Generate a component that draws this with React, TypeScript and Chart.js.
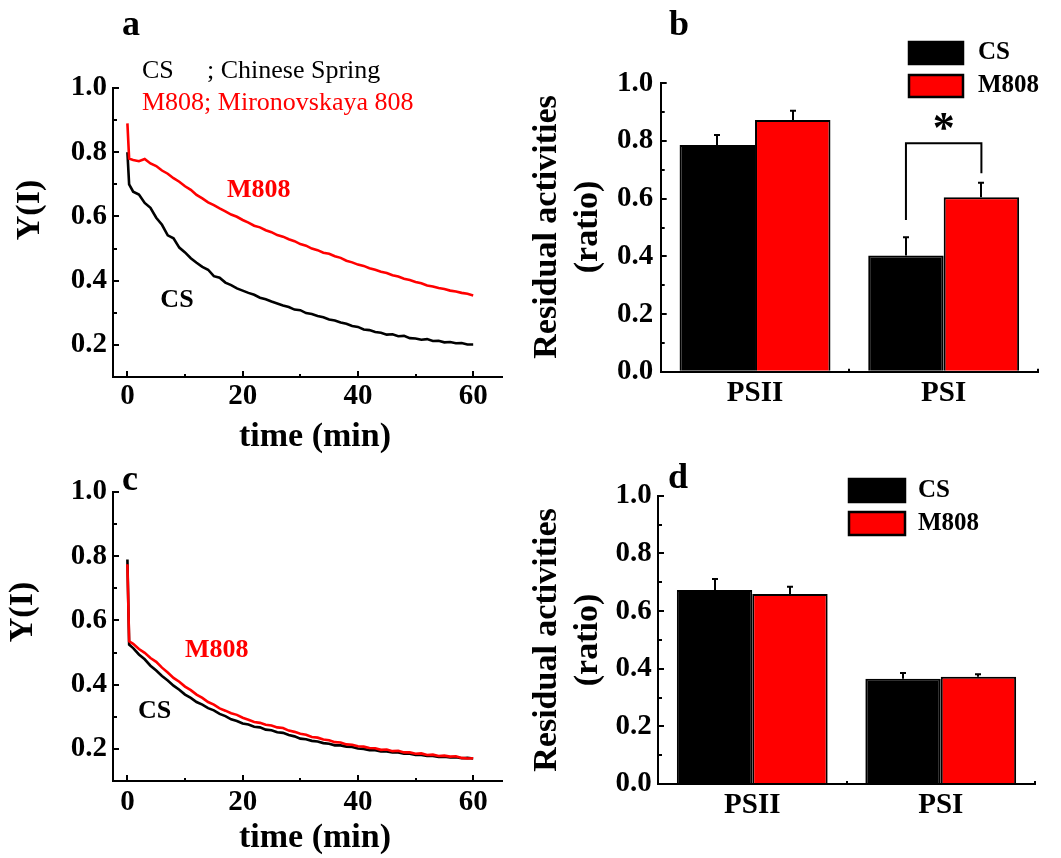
import React, { useEffect, useRef } from 'react';
import { Chart, registerables } from 'chart.js';

Chart.register(...registerables);

const FONT = '"Liberation Serif", "Times New Roman", Times, serif';
const RED = '#ff0000';
const BLACK = '#000000';

// ---------- data ----------
const timeMin = [0, 0.3, 1, 2, 3, 4, 5, 6, 7, 8, 9, 10, 11, 12, 13, 14, 15, 16, 17, 18, 19, 20,
  21, 22, 23, 24, 25, 26, 27, 28, 29, 30, 31, 32, 33, 34, 35, 36, 37, 38, 39, 40,
  41, 42, 43, 44, 45, 46, 47, 48, 49, 50, 51, 52, 53, 54, 55, 56, 57, 58, 59, 60];

const aCS = [0.80, 0.70, 0.677, 0.668, 0.642, 0.627, 0.596, 0.574, 0.541, 0.532, 0.503, 0.488,
  0.470, 0.456, 0.443, 0.434, 0.414, 0.409, 0.394, 0.386, 0.376, 0.369, 0.362, 0.356, 0.347,
  0.342, 0.335, 0.329, 0.323, 0.318, 0.310, 0.308, 0.299, 0.296, 0.290, 0.286, 0.279, 0.276,
  0.270, 0.266, 0.259, 0.256, 0.248, 0.246, 0.240, 0.238, 0.232, 0.233, 0.227, 0.228, 0.221,
  0.220, 0.216, 0.218, 0.212, 0.213, 0.208, 0.209, 0.205, 0.206, 0.201, 0.201];

const aM808 = [0.89, 0.78, 0.776, 0.772, 0.779, 0.765, 0.757, 0.743, 0.733, 0.719, 0.708, 0.694,
  0.683, 0.667, 0.656, 0.644, 0.635, 0.625, 0.616, 0.606, 0.599, 0.589, 0.581, 0.571, 0.566,
  0.557, 0.551, 0.542, 0.537, 0.529, 0.523, 0.514, 0.509, 0.500, 0.495, 0.487, 0.484, 0.476,
  0.471, 0.462, 0.457, 0.450, 0.446, 0.439, 0.434, 0.428, 0.424, 0.417, 0.413, 0.406, 0.402,
  0.396, 0.392, 0.385, 0.382, 0.377, 0.374, 0.369, 0.366, 0.362, 0.359, 0.354];

const cCS = [0.79, 0.525, 0.514, 0.494, 0.479, 0.459, 0.444, 0.427, 0.413, 0.397, 0.384, 0.369,
  0.359, 0.346, 0.338, 0.327, 0.320, 0.309, 0.302, 0.292, 0.287, 0.279, 0.276, 0.269, 0.267,
  0.260, 0.258, 0.252, 0.250, 0.243, 0.239, 0.232, 0.230, 0.225, 0.223, 0.218, 0.216, 0.211,
  0.211, 0.207, 0.206, 0.201, 0.200, 0.196, 0.196, 0.192, 0.192, 0.189, 0.189, 0.185, 0.185,
  0.181, 0.181, 0.178, 0.178, 0.175, 0.176, 0.173, 0.174, 0.171, 0.172, 0.170];

const cM808 = [0.775, 0.535, 0.527, 0.511, 0.499, 0.483, 0.471, 0.453, 0.438, 0.421, 0.409, 0.394,
  0.383, 0.369, 0.359, 0.346, 0.338, 0.326, 0.319, 0.311, 0.306, 0.297, 0.291, 0.284, 0.281,
  0.275, 0.273, 0.267, 0.265, 0.257, 0.253, 0.247, 0.244, 0.237, 0.235, 0.229, 0.227, 0.221,
  0.220, 0.214, 0.213, 0.208, 0.207, 0.203, 0.202, 0.197, 0.198, 0.193, 0.194, 0.189, 0.189,
  0.185, 0.186, 0.181, 0.182, 0.178, 0.179, 0.176, 0.177, 0.172, 0.170, 0.171];

const lineXTicks = [0, 20, 40, 60];
const lineXMinor = [10, 30, 50];
const lineYTicks = [0.2, 0.4, 0.6, 0.8, 1.0];
const lineYMinor = [0.3, 0.5, 0.7, 0.9];

const barCategories = ['PSII', 'PSI'];
const seriesNames = ['CS', 'M808'];
const bCS = [0.786, 0.403];
const bCSErr = [0.035, 0.063];
const bM808 = [0.873, 0.605];
const bM808Err = [0.032, 0.050];
const dCS = [0.673, 0.365];
const dCSErr = [0.038, 0.020];
const dM808 = [0.659, 0.372];
const dM808Err = [0.025, 0.009];
const barYTicks = [0.0, 0.2, 0.4, 0.6, 0.8, 1.0];
const barYMinor = [0.1, 0.3, 0.5, 0.7, 0.9];
// significance bracket in panel b (PSI): left foot, top, right foot, star
const sigBracket = [0.526, 0.792, 0.688, 0.866];

// ---------- plugins ----------
type TextItem = {
  text: string; x: number; y: number; size: number; weight?: string; color?: string;
  align?: CanvasTextAlign; baseline?: CanvasTextBaseline; rotate?: boolean; data?: boolean;
};

function textsPlugin(items: TextItem[]) {
  return {
    id: 'texts',
    afterDraw(chart: any) {
      const { ctx, scales } = chart;
      items.forEach((it) => {
        ctx.save();
        ctx.font = `${it.weight || 'bold'} ${it.size}px ${FONT}`;
        ctx.fillStyle = it.color || BLACK;
        ctx.textAlign = it.align || 'center';
        ctx.textBaseline = it.baseline || 'middle';
        let x = it.x;
        let y = it.y;
        if (it.data) {
          x = scales.x.getPixelForValue(it.x);
          y = scales.y.getPixelForValue(it.y);
        }
        ctx.translate(x, y);
        if (it.rotate) ctx.rotate(-Math.PI / 2);
        ctx.fillText(it.text, 0, 0);
        ctx.restore();
      });
    },
  };
}

function minorTicksPlugin(xs: number[], ys: number[], xLen: number, yLen: number) {
  return {
    id: 'minorTicks',
    afterDraw(chart: any) {
      const { ctx, chartArea, scales } = chart;
      ctx.save();
      ctx.strokeStyle = BLACK;
      ctx.lineWidth = 2;
      ys.forEach((v) => {
        const y = Math.round(scales.y.getPixelForValue(v));
        ctx.beginPath();
        ctx.moveTo(chartArea.left, y);
        ctx.lineTo(chartArea.left + yLen, y);
        ctx.stroke();
      });
      xs.forEach((v) => {
        const x = Math.round(scales.x.getPixelForValue(v));
        ctx.beginPath();
        ctx.moveTo(x, chartArea.bottom);
        ctx.lineTo(x, chartArea.bottom - xLen);
        ctx.stroke();
      });
      ctx.restore();
    },
  };
}

function errorBarsPlugin(errs: number[][]) {
  return {
    id: 'errorBars',
    beforeDatasetsDraw(chart: any) {
      const { ctx, scales } = chart;
      ctx.save();
      ctx.strokeStyle = BLACK;
      ctx.lineWidth = 2;
      errs.forEach((arr, di) => {
        const meta = chart.getDatasetMeta(di);
        const vals = chart.data.datasets[di].data as number[];
        arr.forEach((e, i) => {
          const el = meta.data[i];
          const x = Math.round(el.x);
          const yTop = scales.y.getPixelForValue(vals[i] + e);
          ctx.beginPath();
          ctx.moveTo(x, el.y);
          ctx.lineTo(x, yTop);
          ctx.moveTo(x - 3, yTop);
          ctx.lineTo(x + 3, yTop);
          ctx.stroke();
        });
      });
      ctx.restore();
    },
  };
}

function bracketPlugin(catIndex: number, levels: number[]) {
  return {
    id: 'bracket',
    afterDatasetsDraw(chart: any) {
      const { ctx, scales } = chart;
      const x1 = chart.getDatasetMeta(0).data[catIndex].x;
      const x2 = chart.getDatasetMeta(1).data[catIndex].x;
      const y = (v: number) => scales.y.getPixelForValue(v);
      ctx.save();
      ctx.strokeStyle = BLACK;
      ctx.lineWidth = 2;
      ctx.beginPath();
      ctx.moveTo(x1, y(levels[0]));
      ctx.lineTo(x1, y(levels[1]));
      ctx.lineTo(x2, y(levels[1]));
      ctx.lineTo(x2, y(levels[2]));
      ctx.stroke();
      ctx.font = `bold 44px ${FONT}`;
      ctx.fillStyle = BLACK;
      ctx.textAlign = 'center';
      ctx.textBaseline = 'middle';
      ctx.fillText('*', (x1 + x2) / 2, y(levels[3]) + 9);
      ctx.restore();
    },
  };
}

function boxLegendPlugin(x: number, y0: number, dy: number, w: number, h: number, textX: number) {
  return {
    id: 'boxLegend',
    afterDraw(chart: any) {
      const { ctx } = chart;
      chart.data.datasets.forEach((ds: any, i: number) => {
        const y = y0 + i * dy;
        ctx.save();
        ctx.fillStyle = ds.backgroundColor;
        ctx.strokeStyle = BLACK;
        ctx.lineWidth = 2.5;
        ctx.beginPath();
        ctx.rect(x, y, w, h);
        ctx.fill();
        ctx.stroke();
        ctx.font = `bold 25px ${FONT}`;
        ctx.fillStyle = BLACK;
        ctx.textAlign = 'left';
        ctx.textBaseline = 'middle';
        ctx.fillText(ds.label, textX, y + h / 2);
        ctx.restore();
      });
    },
  };
}

// ---------- chart builders ----------
const tickFont = { family: FONT, size: 29, weight: 'bold' as const, lineHeight: 1.2 };

function lineChart(canvas: HTMLCanvasElement, cs: number[], m808: number[], L: any, texts: TextItem[]) {
  return new Chart(canvas, {
    type: 'line',
    data: {
      datasets: [
        { label: 'M808', data: timeMin.map((t, i) => ({ x: t, y: m808[i] })), borderColor: RED, borderWidth: 2.6, pointRadius: 0, order: 1, tension: 0 },
        { label: 'CS', data: timeMin.map((t, i) => ({ x: t, y: cs[i] })), borderColor: BLACK, borderWidth: 2.6, pointRadius: 0, order: 2, tension: 0 },
      ],
    },
    options: {
      responsive: false,
      animation: false,
      devicePixelRatio: 1,
      layout: { padding: { left: 0, right: L.right, top: L.top, bottom: 0 } },
      plugins: { legend: { display: false }, tooltip: { enabled: false } },
      scales: {
        x: {
          type: 'linear',
          min: -2.5,
          max: 65,
          afterBuildTicks: (s: any) => { s.ticks = lineXTicks.map((v) => ({ value: v })); },
          afterFit: (s: any) => { s.height = L.xh; },
          ticks: { font: tickFont, color: BLACK, padding: L.xpad, maxRotation: 0, autoSkip: false, callback: (v: any) => String(v) },
          grid: { drawOnChartArea: false, tickLength: -6, color: BLACK, lineWidth: 2 },
          border: { color: BLACK, width: 2 },
        },
        y: {
          type: 'linear',
          min: 0.1,
          max: 1.0,
          afterBuildTicks: (s: any) => { s.ticks = lineYTicks.map((v) => ({ value: v })); },
          afterFit: (s: any) => { s.width = 113; },
          ticks: { font: tickFont, color: BLACK, padding: 12, autoSkip: false, callback: (v: any) => Number(v).toFixed(1) },
          grid: { drawOnChartArea: false, tickLength: -6, color: BLACK, lineWidth: 2 },
          border: { color: BLACK, width: 2 },
        },
      },
    } as any,
    plugins: [minorTicksPlugin(lineXMinor, lineYMinor, 3, 4), textsPlugin(texts)],
  });
}

function barChart(canvas: HTMLCanvasElement, cs: number[], csErr: number[], m808: number[], m808Err: number[], L: any, texts: TextItem[], extra: any[]) {
  return new Chart(canvas, {
    type: 'bar',
    data: {
      labels: barCategories,
      datasets: [
        { label: seriesNames[0], data: cs, backgroundColor: BLACK, borderColor: BLACK, borderWidth: 2 },
        { label: seriesNames[1], data: m808, backgroundColor: RED, borderColor: BLACK, borderWidth: 2 },
      ],
    },
    options: {
      responsive: false,
      animation: false,
      devicePixelRatio: 1,
      layout: { padding: { left: 0, right: L.right, top: L.top, bottom: 0 } },
      plugins: { legend: { display: false }, tooltip: { enabled: false } },
      datasets: { bar: { categoryPercentage: 0.8, barPercentage: 1.0 } },
      scales: {
        x: {
          type: 'category',
          offset: true,
          afterFit: (s: any) => { s.height = L.xh; },
          ticks: { font: tickFont, color: BLACK, padding: L.xpad, maxRotation: 0 },
          grid: { offset: true, drawOnChartArea: false, tickLength: -3, color: BLACK, lineWidth: 2 },
          border: { color: BLACK, width: 2 },
        },
        y: {
          type: 'linear',
          min: 0,
          max: 1.0,
          afterBuildTicks: (s: any) => { s.ticks = barYTicks.map((v) => ({ value: v })); },
          afterFit: (s: any) => { s.width = L.yw; },
          ticks: { font: tickFont, color: BLACK, padding: L.ypad, autoSkip: false, callback: (v: any) => Number(v).toFixed(1) },
          grid: { drawOnChartArea: false, tickLength: -6, color: BLACK, lineWidth: 2 },
          border: { color: BLACK, width: 2 },
        },
      },
    } as any,
    plugins: [errorBarsPlugin([csErr, m808Err]), minorTicksPlugin([], barYMinor, 0, 4), textsPlugin(texts), ...extra],
  });
}

// ---------- component ----------
export default function App() {
  const aRef = useRef<HTMLCanvasElement>(null);
  const bRef = useRef<HTMLCanvasElement>(null);
  const cRef = useRef<HTMLCanvasElement>(null);
  const dRef = useRef<HTMLCanvasElement>(null);

  useEffect(() => {
    const charts: Chart[] = [];
    charts.push(lineChart(aRef.current!, aCS, aM808, { right: 18, top: 88, xh: 78, xpad: 8.6 }, [
      { text: 'a', x: 131, y: 35, size: 36, baseline: 'alphabetic' },
      { text: 'CS', x: 142, y: 71, size: 26, weight: 'normal', align: 'left' },
      { text: '; Chinese Spring', x: 207, y: 71, size: 26, weight: 'normal', align: 'left' },
      { text: 'M808; Mironovskaya 808', x: 142, y: 103, size: 26, weight: 'normal', align: 'left', color: RED },
      { text: 'Y(I)', x: 30, y: 210, size: 34, rotate: true },
      { text: 'time (min)', x: 315, y: 437, size: 34 },
      { text: 'M808', x: 22.8, y: 0.681, size: 26, color: RED, data: true },
      { text: 'CS', x: 8.6, y: 0.3375, size: 26, data: true },
    ]));
    charts.push(lineChart(cRef.current!, cCS, cM808, { right: 18, top: 37, xh: 77, xpad: 10.6 }, [
      { text: 'c', x: 130, y: 35, size: 36, baseline: 'alphabetic' },
      { text: 'Y(I)', x: 23, y: 157, size: 34, rotate: true },
      { text: 'time (min)', x: 315, y: 383, size: 34 },
      { text: 'M808', x: 15.5, y: 0.508, size: 26, color: RED, data: true },
      { text: 'CS', x: 4.7, y: 0.318, size: 26, data: true },
    ]));
    charts.push(barChart(bRef.current!, bCS, bCSErr, bM808, bM808Err, { right: 23, top: 83.3, xh: 83.3, xpad: 7.9, yw: 140.7, ypad: 13.4 }, [
      { text: 'b', x: 159, y: 35, size: 36, baseline: 'alphabetic' },
      { text: 'Residual activities', x: 27, y: 227, size: 34, rotate: true },
      { text: '(ratio)', x: 68, y: 227, size: 34, rotate: true },
    ], [bracketPlugin(1, sigBracket), boxLegendPlugin(389, 42, 33, 54, 22, 458)]));
    charts.push(barChart(dRef.current!, dCS, dCSErr, dM808, dM808Err, { right: 26, top: 40.7, xh: 74, xpad: 7.6, yw: 138, ypad: 12.3 }, [
      { text: 'd', x: 158, y: 33, size: 36, baseline: 'alphabetic' },
      { text: 'Residual activities', x: 27, y: 185, size: 34, rotate: true },
      { text: '(ratio)', x: 68, y: 185, size: 34, rotate: true },
    ], [boxLegendPlugin(329, 24, 33, 56, 23, 398)]));
    return () => charts.forEach((c) => c.destroy());
  }, []);

  const cv = (left: number, top: number): React.CSSProperties => ({ position: 'absolute', left, top, display: 'block' });

  return (
    <div style={{ position: 'absolute', left: 0, top: 0, width: 1061, height: 858, background: '#fff', overflow: 'hidden' }}>
      <canvas ref={aRef} width={520} height={455} style={cv(0, 0)} />
      <canvas ref={bRef} width={541} height={455} style={cv(520, 0)} />
      <canvas ref={cRef} width={520} height={403} style={cv(0, 455)} />
      <canvas ref={dRef} width={541} height={403} style={cv(520, 455)} />
    </div>
  );
}
